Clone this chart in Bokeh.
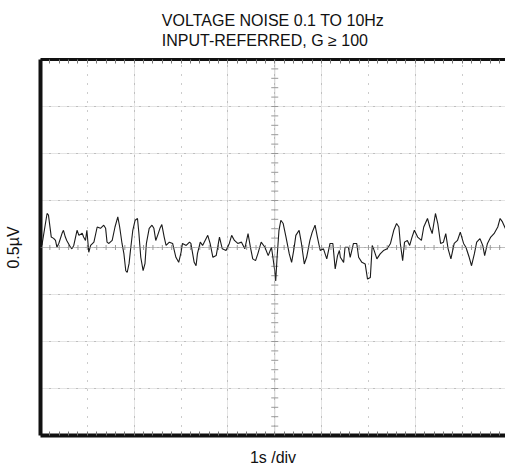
import numpy as np
from bokeh.plotting import figure
from bokeh.models import Range1d, LinearAxis, Span, FixedTicker, Grid
from bokeh.embed import file_html
from bokeh.resources import INLINE

title_line1 = "VOLTAGE NOISE 0.1 TO 10Hz"
title_line2 = "INPUT-REFERRED, G \u2265 100"
x_label = "1s /div"
y_label = "0.5\u00b5V"

# time in seconds (1 s/div), voltage in microvolts (0.5 uV/div)
t_s = [0.03, 0.14, 0.17, 0.23, 0.28, 0.32, 0.35, 0.39, 0.46, 0.49, 0.53, 0.56, 0.64, 0.67, 0.71,
       0.78, 0.82, 0.89, 0.92, 0.96, 0.99, 1.03, 1.07, 1.14, 1.21, 1.28, 1.35, 1.39, 1.42, 1.46,
       1.53, 1.59, 1.65, 1.69, 1.74, 1.78, 1.82, 1.85, 1.89, 1.92, 1.97, 2.02, 2.07, 2.10, 2.14,
       2.19, 2.23, 2.26, 2.32, 2.38, 2.42, 2.46, 2.50, 2.55, 2.59, 2.64, 2.68, 2.75, 2.82, 2.89,
       2.95, 3.00, 3.03, 3.11, 3.18,
       3.21, 3.28, 3.32, 3.35, 3.41, 3.46, 3.57, 3.62, 3.68, 3.75, 3.82, 3.88, 3.96, 4.03, 4.08,
       4.14, 4.21, 4.29, 4.36, 4.43, 4.48, 4.53, 4.59, 4.64, 4.71, 4.79, 4.86, 4.93, 5.00, 5.02,
       5.05, 5.09, 5.13, 5.18, 5.24, 5.31, 5.36, 5.41, 5.45, 5.52, 5.57, 5.63, 5.68, 5.75, 5.80,
       5.86, 5.91, 5.97, 6.04, 6.11, 6.18, 6.24, 6.29, 6.34, 6.38,
       6.40, 6.47, 6.50, 6.57, 6.61, 6.68, 6.75, 6.79, 6.86, 6.93, 6.98, 7.04, 7.08, 7.11, 7.18,
       7.25, 7.32, 7.40, 7.47, 7.54, 7.60, 7.65, 7.68, 7.73, 7.77, 7.83, 7.88, 7.93, 7.98, 8.05,
       8.13, 8.18, 8.26, 8.31, 8.36, 8.43, 8.48, 8.54, 8.60, 8.65, 8.70, 8.76, 8.83, 8.90, 8.96,
       9.03, 9.08, 9.15, 9.20, 9.26, 9.31, 9.38, 9.44, 9.48, 9.54, 9.61, 9.68, 9.76, 9.81, 9.86,
       9.94]
v_uv = [0.022, 0.362, 0.344, 0.111, 0.097, 0.075, 0.003, 0.043, 0.151, 0.183, 0.111, 0.075, 0.003, -0.014, 0.022,
        0.183, 0.129, 0.151, 0.111, 0.075, 0.183, -0.051, 0.022, 0.057, 0.218, 0.204, 0.237, 0.204, 0.057, 0.043,
        0.075, 0.218, 0.326, 0.218, 0.043, -0.065, -0.247, -0.266, -0.172, -0.032, 0.183, 0.290, 0.309, 0.151, -0.104,
        -0.247, -0.172, 0.043, 0.204, 0.237, 0.204, 0.075, 0.129, 0.204, 0.244, 0.111, 0.022, 0.057, 0.043, -0.104,
        -0.158, -0.051, 0.043, 0.022, 0.057,
        0.043, -0.158, -0.194, -0.065, 0.057, 0.022, 0.129, 0.043, -0.104, -0.086, 0.111, -0.014, -0.032, 0.043, 0.129,
        0.075, 0.043, 0.057, -0.014, 0.147, 0.003, -0.121, -0.140, -0.065, 0.057, 0.003, -0.086, 0.003, -0.247, -0.355,
        -0.104, 0.183, 0.290, 0.255, 0.111, -0.068, -0.158, -0.014, 0.129, 0.183, 0.043, -0.175, -0.104, 0.075, 0.164,
        0.237, 0.111, -0.032, -0.014, -0.121, 0.043, 0.043, -0.229, -0.086, -0.032,
        -0.104, -0.158, 0.003, 0.003, -0.104, 0.043, 0.043, -0.104, -0.158, -0.175, -0.336, -0.319, 0.022, -0.014, -0.121,
        -0.068, -0.032, -0.014, 0.043, 0.183, 0.255, 0.218, 0.043, -0.140, 0.057, 0.075, 0.022, 0.111, 0.183, 0.111,
        0.075, 0.218, 0.309, 0.218, 0.147, 0.362, 0.255, 0.043, 0.057, 0.147, -0.014, -0.121, 0.043, 0.075, 0.164,
        0.043, 0.003, -0.104, -0.194, -0.068, 0.057, 0.094, 0.022, -0.086, 0.043, 0.111, 0.147, 0.218, 0.309, 0.272,
        0.183]

x_divs = [0, 1, 2, 3, 4, 5, 6, 7, 8, 9, 10]
y_divs = [-2.0, -1.5, -1.0, -0.5, 0.0, 0.5, 1.0, 1.5, 2.0]
x_center = 5
y_center = 0.0
minor_per_div = 5

x_minor = list(np.arange(0, 10.0001, 1.0 / minor_per_div))
y_minor = list(np.arange(-2, 2.0001, 0.5 / minor_per_div))

FONT = "Liberation Sans"

p = figure(width=505, height=470, output_backend="svg", toolbar_location=None,
           x_range=Range1d(0, 9.925), y_range=Range1d(-2, 2),
           x_axis_location=None, y_axis_location=None,
           min_border_left=40, min_border_right=0, min_border_top=0, min_border_bottom=35,
           title=title_line1 + "\n" + title_line2)
p.outline_line_color = None
p.background_fill_color = "white"
p.border_fill_color = "white"

p.title.align = "center"
p.title.text_font = FONT
p.title.text_font_size = "16px"
p.title.text_font_style = "normal"
p.title.text_color = "#111"
p.title.text_line_height = 1.2
p.title.standoff = 20


def style_axis(ax, lw, ticks_in):
    ax.axis_line_width = lw
    ax.axis_line_color = "#111"
    ax.major_tick_in = 0
    ax.major_tick_out = 0
    ax.minor_tick_in = ticks_in
    ax.minor_tick_out = 0
    ax.minor_tick_line_color = "#777"
    ax.axis_label_text_font = FONT
    ax.axis_label_text_font_size = "16px"
    ax.axis_label_text_font_style = "normal"
    ax.axis_label_text_color = "#111"


top = LinearAxis(ticker=FixedTicker(ticks=[], minor_ticks=x_minor))
style_axis(top, 3, 4)
p.add_layout(top, "above")

bottom = LinearAxis(ticker=FixedTicker(ticks=[], minor_ticks=x_minor), axis_label=x_label)
style_axis(bottom, 4, 4)
bottom.axis_label_standoff = 13
p.add_layout(bottom, "below")

left = LinearAxis(ticker=FixedTicker(ticks=[], minor_ticks=[]), axis_label=y_label)
style_axis(left, 4, 0)
left.axis_label_standoff = 19
p.add_layout(left, "left")

p.add_layout(Grid(dimension=0, ticker=FixedTicker(ticks=x_divs), grid_line_color="#999",
                  grid_line_dash="1 8", grid_line_width=1))
p.add_layout(Grid(dimension=1, ticker=FixedTicker(ticks=y_divs), grid_line_color="#999",
                  grid_line_dash="1 8", grid_line_width=1))

p.add_layout(Span(location=x_center, dimension="height", line_color="#999", line_dash="1 1", line_width=1))
p.add_layout(Span(location=y_center, dimension="width", line_color="#999", line_dash="1 1", line_width=1))

p.scatter([x_center] * len(y_minor), y_minor, marker="dash", size=7, line_color="#999", line_width=1)
p.scatter(x_minor, [y_center] * len(x_minor), marker="dash", angle=np.pi / 2, size=5,
          line_color="#999", line_width=1)

p.line(t_s, v_uv, line_color="#1a1a1a", line_width=1.1)

open("out.html", "w").write(file_html(p, INLINE))
